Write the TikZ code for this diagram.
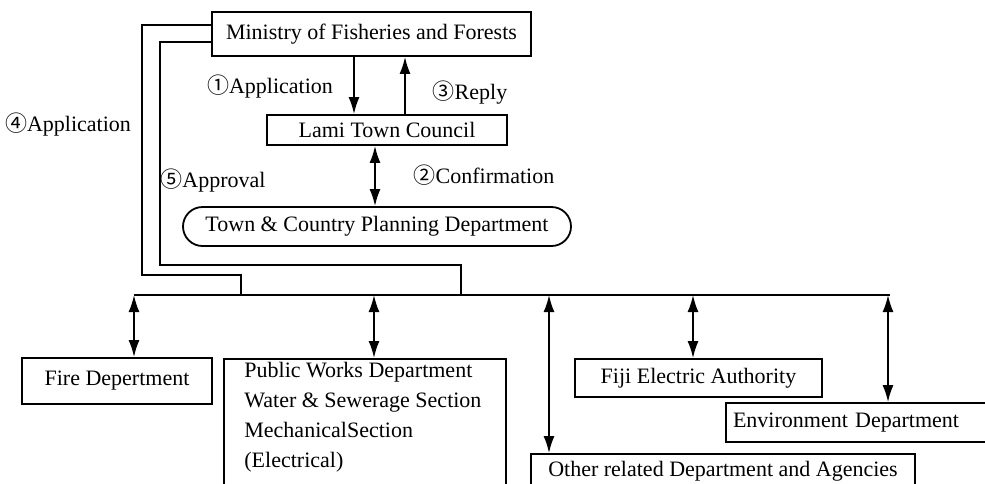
\documentclass[tikz,border=0pt]{standalone}
\usepackage{fontspec}
\setmainfont{Liberation Serif}
\newfontfamily\circfont{Noto Sans CJK SC}
\usetikzlibrary{arrows.meta,shapes.misc}

\tikzstyle{office}=[draw,line width=0.9pt,rectangle,inner sep=2pt,
    font=\fontsize{11}{15}\selectfont]
\tikzstyle{planning}=[office,rounded rectangle]
\tikzstyle{link}=[line width=0.9pt]
\tikzstyle{flowtext}=[inner sep=1pt,font=\fontsize{11}{15}\selectfont]
\newcommand{\stepno}[1]{{\circfont\fontsize{11}{13}\selectfont #1}}
\newcommand{\branch}[2]{
    \draw[link,<->] (#1) -- (#1 |- #2.north);
}

\begin{document}
\begin{tikzpicture}[x=0.5pt,y=-0.5pt,>={Latex[length=8.5pt,width=5.5pt]}]
    \useasboundingbox (0,0) rectangle (985,483);
    \clip (0,0) rectangle (985,483);
    %
    \node[office,minimum width=159.5pt,minimum height=22pt] (ministry) at (371.5,34)
        {Ministry of Fisheries and Forests};
    \node[office,minimum width=120pt,minimum height=15pt] (lami) at (387,130)
        {Lami Town Council};
    \node[planning,minimum width=198pt,minimum height=19.5pt] (town) at (377,226.5)
        {Town \& Country Planning Department};
    %
    \draw[link,->] (ministry.south -| 354,0) -- (lami.north -| 354,0);
    \draw[link,->] (lami.north -| 405,0) -- (ministry.south -| 405,0);
    \draw[link,<->] (lami.south -| 375,0) -- (town.north -| 375,0);
    \node[flowtext] (apply) at (270,87) {\stepno{①}Application};
    \node[flowtext] (reply) at (470,93) {\stepno{③}Reply};
    \node[flowtext] (confirm) at (484,175) {\stepno{②}Confirmation};
    \node[flowtext] (approve) at (213,181) {\stepno{⑤}Approval};
    \node[flowtext] (apply2) at (68,125) {\stepno{④}Application};
    %
    \node[office,minimum width=95pt,minimum height=23pt] (fire) at (117,381)
        {Fire Depertment};
    \node[office,anchor=north west,minimum width=141pt,minimum height=80pt] (works)
        at (223,358) {};
    \node[flowtext,anchor=north west,align=left,inner sep=2pt] (workstext) at (240,358)
        {Public Works Department\\Water \& Sewerage Section\\MechanicalSection\\(Electrical)};
    \node[office,minimum width=192pt,minimum height=17pt] (other) at (723,471)
        {Other related Department and Agencies};
    \node[office,minimum width=123.5pt,minimum height=19pt] (fiji) at (698.5,378)
        {Fiji Electric Authority};
    \node[office,minimum width=133pt,minimum height=19.5pt,inner xsep=3.5pt,
        text width=126pt,align=left] (env) at (859,422.5)
        {Environment Department};
    %
    \coordinate (j1) at (241,295);
    \coordinate (j2) at (461,295);
    \coordinate (b1) at (134,295);
    \coordinate (b2) at (374,295);
    \coordinate (b3) at (549,295);
    \coordinate (b4) at (693,295);
    \coordinate (b5) at (888,295);
    \draw[link] (b1) -- (890,295);
    \draw[link] ([yshift=4.5pt]ministry.west) -| (142,275) -| (j1);
    \draw[link] ([yshift=-4pt]ministry.west) -| (160,265) -| (j2);
    %
    \branch{b1}{fire}
    \branch{b2}{works}
    \branch{b3}{other}
    \branch{b4}{fiji}
    \branch{b5}{env}
\end{tikzpicture}
\end{document}
